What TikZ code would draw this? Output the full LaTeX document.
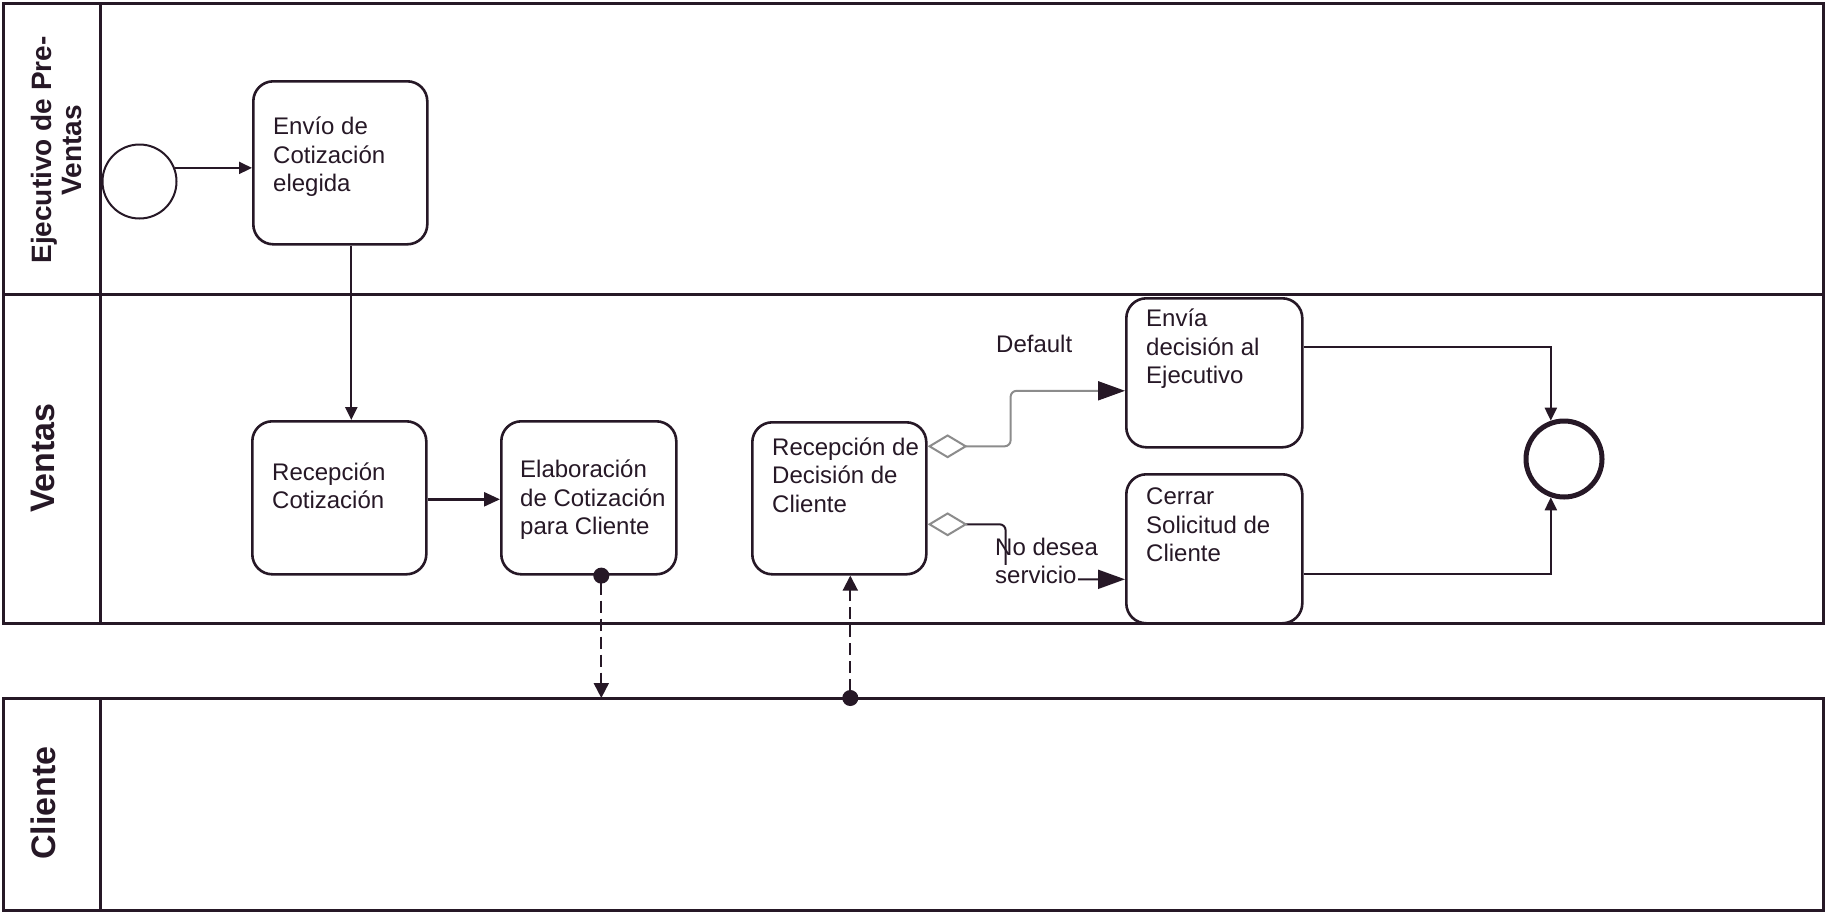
\documentclass[tikz,border=0pt]{standalone}
\usepackage{fontspec}
\setmainfont{Liberation Sans}
\usetikzlibrary{arrows.meta,calc}
\definecolor{ink}{RGB}{38,24,38}
\definecolor{gwgray}{RGB}{140,140,140}
\begin{document}
\begin{tikzpicture}[x=1pt,y=-1pt,
  pool/.style={draw=ink, line width=3pt, rectangle, inner sep=0pt, outer sep=0pt, anchor=north west},
  laneline/.style={draw=ink, line width=3pt},
  task/.style={draw=ink, line width=2.6pt, rounded corners=20pt, rectangle, inner sep=0pt, anchor=north west},
  txt/.style={anchor=west, align=left, inner sep=0pt, text=ink, font=\fontsize{24}{28.5}\selectfont},
  lanelbl/.style={rotate=90, align=center, inner sep=0pt, text=ink, font=\bfseries\fontsize{28}{30}\selectfont},
  biglbl/.style={lanelbl, font=\bfseries\fontsize{34}{36}\selectfont},
  flow/.style={draw=ink, line width=2.2pt, -{Triangle[length=13pt,width=12pt]}},
  msg/.style={draw=ink, line width=2pt, dash pattern=on 12pt off 6pt, {Circle[length=16pt]}-{Triangle[length=15pt,width=15pt]}, shorten <=-8pt},
  gw/.style={line width=2pt, rounded corners=6pt}
]
\useasboundingbox (0,0) rectangle (1825,911);
\fill[white] (0,0) rectangle (1825,911);

% pools and lanes
\node[pool, minimum width=1820pt, minimum height=620pt] (pool1) at (3,3) {};
\node[pool, minimum width=1820pt, minimum height=212pt] (cliente) at (3,698) {};
\draw[laneline] (100,3) -- (100,623);
\draw[laneline] (3,294) -- (1823,294);
\draw[laneline] (100,698) -- (100,910);

\node[lanelbl] (l1) at (56,150) {Ejecutivo de Pre-\\Ventas};
\node[biglbl] (l2) at (43,458) {Ventas};
\node[biglbl] (l3) at (43,803) {Cliente};

% events
\node[draw=ink, line width=2pt, circle, minimum size=74pt, inner sep=0pt] (start) at (139.5,181.5) {};
\node[draw=ink, line width=5pt, circle, minimum size=76pt, inner sep=0pt] (end) at (1564,459) {};

% tasks
\node[task, minimum width=174pt, minimum height=163pt] (envio) at (252,80) {};
\node[task, minimum width=174pt, minimum height=153pt] (recot) at (251,420) {};
\node[task, minimum width=175pt, minimum height=153pt] (elab) at (500,420) {};
\node[task, minimum width=174pt, minimum height=152pt] (recdec) at (751,421) {};
\node[task, minimum width=176pt, minimum height=149pt] (envia) at (1125,297) {};
\node[task, minimum width=176pt, minimum height=149pt] (cerrar) at (1125,473) {};

% connectors
\draw[flow] (start.21) -- (start.21 -| envio.west);
\draw[flow] ([xshift=11pt]envio.south) -- ([xshift=11pt]envio.south |- recot.north);
\draw[flow, line width=2.6pt, -{Triangle[length=16pt,width=14pt]}] ([yshift=-1.5pt]recot.east) -- ([yshift=-1.5pt]recot.east -| elab.west);
\draw[msg] ([xshift=12.5pt]elab.south) -- ([xshift=12.5pt]elab.south |- cliente.north);
\draw[msg] ([xshift=11pt]recdec.south |- cliente.north) -- ([xshift=11pt]recdec.south);
\draw[gw, draw=gwgray, {Diamond[open,length=40pt,width=24pt,color=gwgray]}-{Triangle[length=27pt,width=19pt,color=ink]}]
  ([yshift=52pt]recdec.east) -- ++(83,0) |- ([yshift=-18pt]envia.west);
\draw[gw, draw=ink, {Diamond[open,length=40pt,width=24pt,color=gwgray]}-{Triangle[length=27pt,width=19pt]}]
  ([yshift=-26pt]recdec.east) -- ++(78,0) |- ([yshift=-30.5pt]cerrar.west);
\draw[flow] ([yshift=25.5pt]envia.east) -| (end.109);
\draw[flow] ([yshift=-25.5pt]cerrar.east) -| (end.251);

% texts
\node[txt] (t1) at (273,157) {Envío de\\Cotización\\elegida};
\node[txt] (t2) at (272,486) {Recepción\\Cotización};
\node[txt] (t3) at (520,500) {Elaboración\\de Cotización\\para Cliente};
\node[txt] (t4) at (772,475) {Recepción de\\Decisión de\\Cliente};
\node[txt] (t5) at (1146,349) {Envía\\decisión al\\Ejecutivo};
\node[txt] (t6) at (1146,525) {Cerrar\\Solicitud de\\Cliente};
\node[txt] (t7) at (996,344) {Default};
\node[txt] (t8) at (995,547) {No desea};
\node[txt, fill=white, inner sep=1pt] (t9) at (994,575) {servicio};
\end{tikzpicture}
\end{document}
